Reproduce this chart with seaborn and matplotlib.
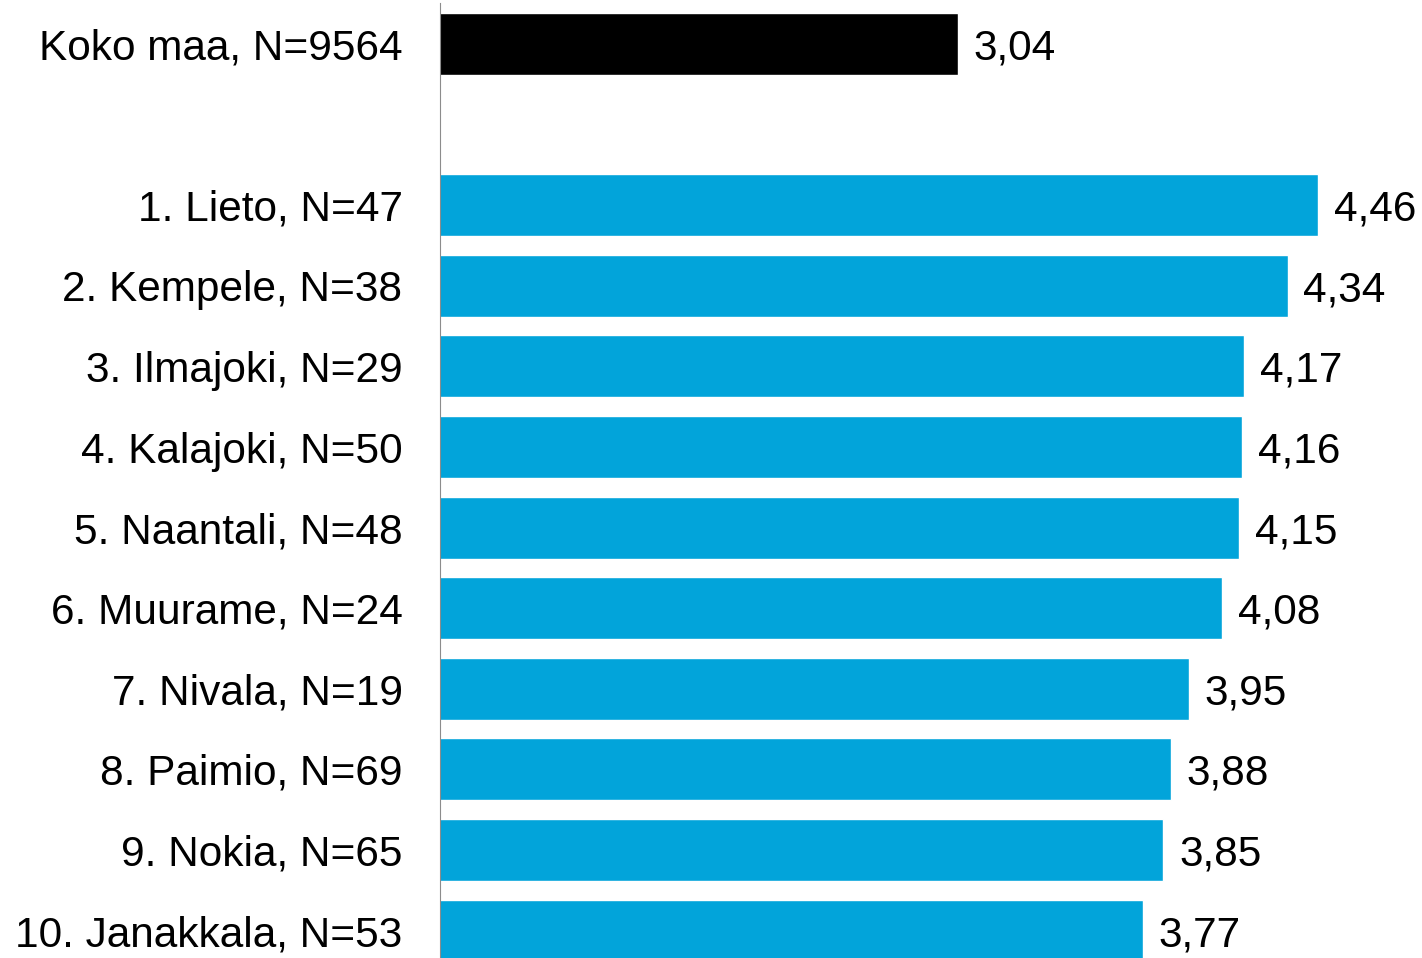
import pandas as pd
import numpy as np
import matplotlib
matplotlib.use('Agg')
import matplotlib.pyplot as plt
import seaborn as sns

labels = ['Koko maa, N=9564', '1. Lieto, N=47', '2. Kempele, N=38', '3. Ilmajoki, N=29',
          '4. Kalajoki, N=50', '5. Naantali, N=48', '6. Muurame, N=24', '7. Nivala, N=19',
          '8. Paimio, N=69', '9. Nokia, N=65', '10. Janakkala, N=53']
values = [3.04, 4.46, 4.34, 4.17, 4.16, 4.15, 4.08, 3.95, 3.88, 3.85, 3.77]
colors = ['#000000'] + ['#02A4DA'] * 10

df = pd.DataFrame({'label': labels, 'value': values})
order = [labels[0], ' '] + labels[1:]
palette = dict(zip(labels, colors))

sns.set_style('white')
plt.rcParams['font.family'] = ['Liberation Sans', 'DejaVu Sans']

fig = plt.figure(figsize=(14.22, 9.58), dpi=100)
ax = fig.add_axes([440 / 1422, 0, 1 - 440 / 1422, 1 - 3 / 958])

sns.barplot(data=df, x='value', y='label', hue='label', order=order, palette=palette,
            orient='h', width=0.77, legend=False, saturation=1, ax=ax)

# value labels with decimal comma
for lab, v in zip(labels, values):
    ax.annotate(f'{v:.2f}'.replace('.', ','), xy=(v, order.index(lab)),
                xytext=(11.5, 0), textcoords='offset points',
                va='center_baseline', ha='left', fontsize=30.5, color='black')

ax.set_xlim(1, 4.87)
ax.set_ylim(11.34, -0.509)
ax.set_xlabel('')
ax.set_ylabel('')
ax.set_xticks([])
ax.tick_params(axis='y', length=0, pad=27, labelsize=30.5, labelcolor='black')
for t in ax.get_yticklabels():
    t.set_va('center_baseline')
for s in ['top', 'right', 'bottom']:
    ax.spines[s].set_visible(False)
ax.spines['left'].set_color('#8c8c8c')
ax.spines['left'].set_linewidth(0.8)

fig.savefig('out.png', dpi=100)
plt.close()
